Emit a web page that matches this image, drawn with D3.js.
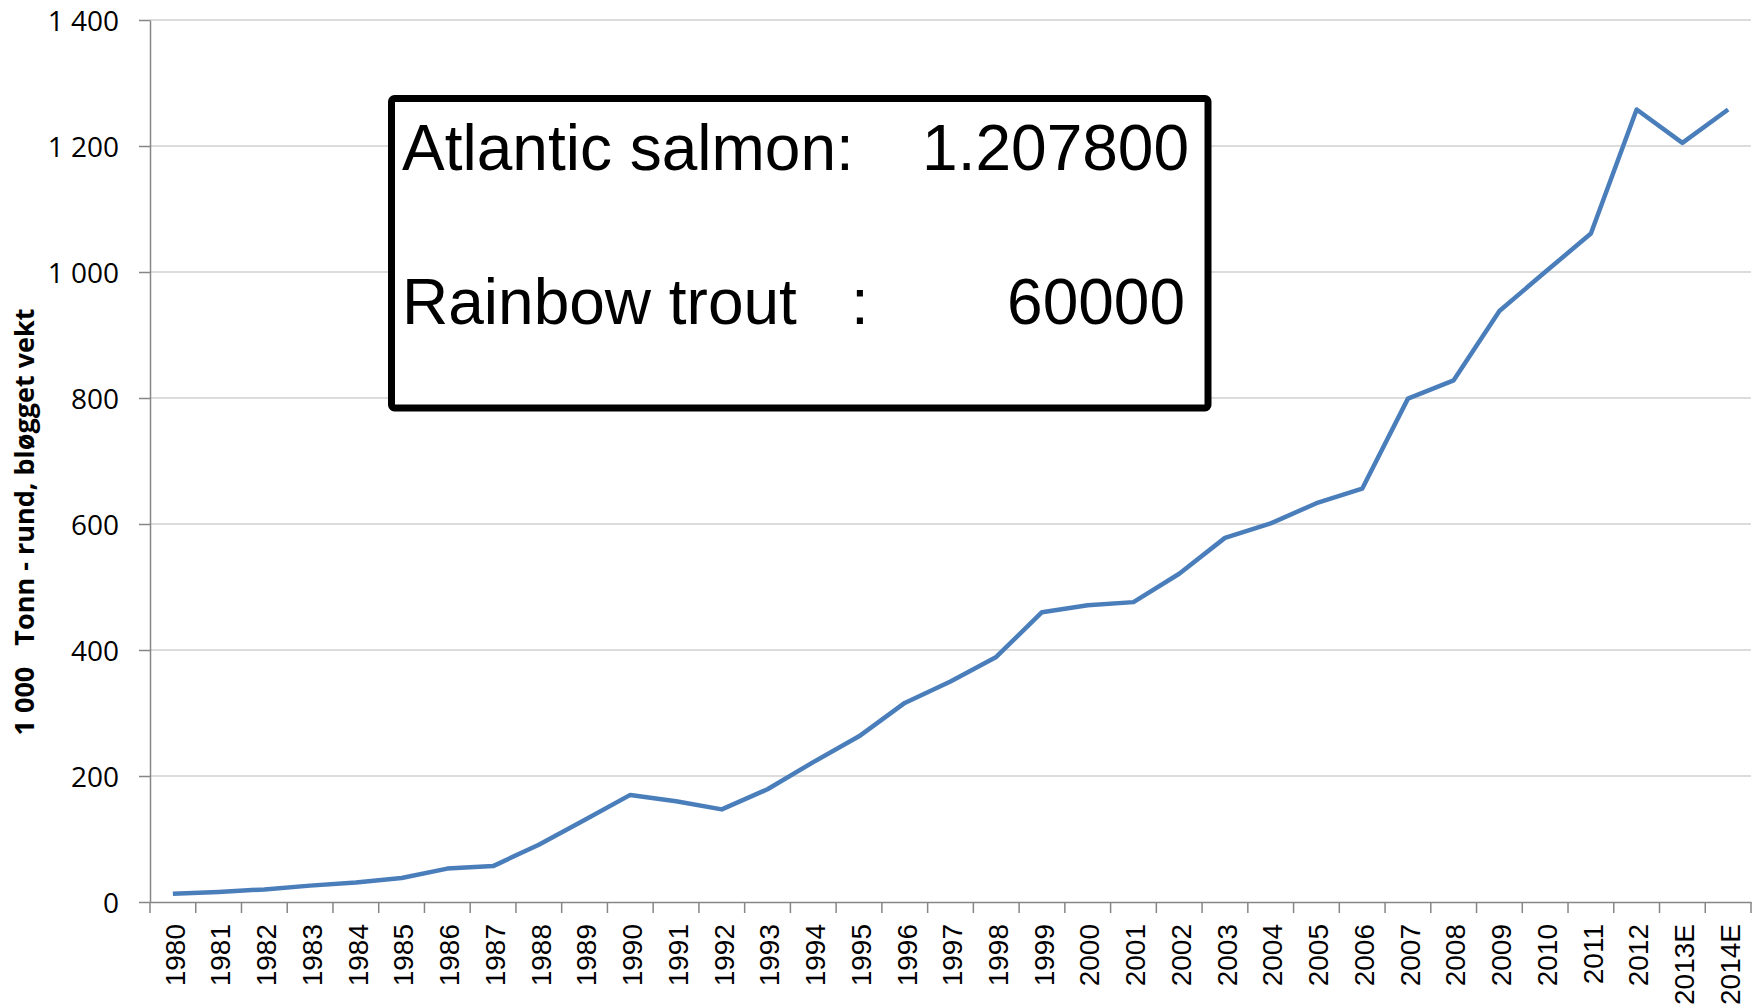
<!DOCTYPE html>
<html>
<head>
<meta charset="utf-8">
<script src="https://cdn.jsdelivr.net/npm/d3@7"></script>
<style>
  body { margin: 0; background: #fff; }
  svg { display: block; }
</style>
</head>
<body>
<div id="chart"></div>
<script>
// chart constants
const WIDTH = 1760;
const HEIGHT = 1007;
const plot = { left: 150, right: 1751, top: 20, bottom: 902 };

// data (1000 tonn)
const years = ["1980","1981","1982","1983","1984","1985","1986","1987","1988","1989",
  "1990","1991","1992","1993","1994","1995","1996","1997","1998","1999",
  "2000","2001","2002","2003","2004","2005","2006","2007","2008","2009",
  "2010","2011","2012","2013E","2014E"];
const production = [13, 16, 20, 26, 31, 38, 53, 57, 91, 130,
  170, 160, 147, 179, 222, 263, 316, 350, 389, 460,
  471, 476, 521, 578, 601, 633, 656, 799, 828, 938,
  1000, 1061, 1258, 1205, 1258];
const yTicks = [0, 200, 400, 600, 800, 1000, 1200, 1400];

// text box content
const boxRows = [
  { label: "Atlantic salmon:", colon: "", value: "1.207800" },
  { label: "Rainbow trout", colon: ":", value: "60000" }
];
const yTitle = "1 000   Tonn - rund, bløgget vekt";

const AXIS_COLOR = "#868686";
const GRID_COLOR = "#d0d0d0";
const LINE_COLOR = "#4a7ebb";

// norwegian style thousands: "1 400"
const nbFormat = d3.formatLocale({ decimal: ",", thousands: " ", grouping: [3], currency: ["", ""] }).format(",");

const svg = d3.select("#chart")
  .append("svg")
  .attr("width", WIDTH)
  .attr("height", HEIGHT);

const xScale = d3.scaleBand()
  .domain(years)
  .range([plot.left, plot.right])
  .padding(0);
const yScale = d3.scaleLinear()
  .domain([0, 1400])
  .range([plot.bottom, plot.top]);

// horizontal gridlines
svg.append("g")
  .selectAll("line")
  .data(yTicks.filter(d => d > 0))
  .enter().append("line")
  .attr("x1", plot.left)
  .attr("x2", plot.right)
  .attr("y1", d => yScale(d))
  .attr("y2", d => yScale(d))
  .attr("stroke", GRID_COLOR)
  .attr("stroke-width", 1.5);

// y axis
const yAxis = d3.axisLeft(yScale)
  .tickValues(yTicks)
  .tickSize(11)
  .tickSizeOuter(0)
  .tickFormat(nbFormat);
const yG = svg.append("g")
  .attr("transform", `translate(${plot.left}, 0)`)
  .call(yAxis);
yG.select(".domain").attr("stroke", AXIS_COLOR).attr("stroke-width", 1.5);
yG.selectAll(".tick line").attr("stroke", AXIS_COLOR).attr("stroke-width", 1.5);
yG.selectAll(".tick text")
  .attr("x", -31)
  .attr("dy", "0.36em")
  .style("font-family", "'Open Sans', sans-serif")
  .style("font-size", "28px")
  .attr("fill", "#000");

// x axis, labels at band centres
const xAxis = d3.axisBottom(xScale).tickSize(0).tickSizeOuter(0);
const xG = svg.append("g")
  .attr("transform", `translate(0, ${plot.bottom})`)
  .call(xAxis);
xG.select(".domain").attr("stroke", AXIS_COLOR).attr("stroke-width", 1.5);
xG.selectAll(".tick text")
  .attr("transform", "rotate(-90)")
  .attr("text-anchor", "end")
  .attr("x", -22)
  .attr("y", 0)
  .attr("dy", "0.42em")
  .style("font-family", "'Liberation Sans', Arial, sans-serif")
  .style("font-size", "28px")
  .attr("fill", "#000");

// x ticks between categories
const boundaries = years.map(d => xScale(d)).concat([plot.right]);
svg.append("g")
  .selectAll("line")
  .data(boundaries)
  .enter().append("line")
  .attr("x1", d => d)
  .attr("x2", d => d)
  .attr("y1", plot.bottom)
  .attr("y2", plot.bottom + 11)
  .attr("stroke", AXIS_COLOR)
  .attr("stroke-width", 1.5);

// y axis title
svg.append("text")
  .attr("transform", `translate(34, 522) rotate(-90)`)
  .attr("text-anchor", "middle")
  .style("font-family", "'Open Sans', sans-serif")
  .style("font-weight", "bold")
  .style("font-size", "27px")
  .style("white-space", "pre")
  .text(yTitle);

// the production line
const line = d3.line()
  .x((d, i) => xScale(years[i]) + xScale.bandwidth() / 2)
  .y(d => yScale(d));
svg.append("path")
  .datum(production)
  .attr("d", line)
  .attr("fill", "none")
  .attr("stroke", LINE_COLOR)
  .attr("stroke-width", 4.5)
  .attr("stroke-linejoin", "round");

// text box
const box = svg.append("g");
box.append("rect")
  .attr("x", 391.5)
  .attr("y", 98.5)
  .attr("width", 816.5)
  .attr("height", 309.5)
  .attr("rx", 3)
  .attr("fill", "#fff")
  .attr("stroke", "#000")
  .attr("stroke-width", 7);

const rows = box.selectAll("g.row")
  .data(boxRows)
  .enter().append("g")
  .attr("class", "row")
  .attr("transform", (d, i) => `translate(0, ${i == 0 ? 170 : 324})`)
  .style("font-family", "'Liberation Sans', Arial, sans-serif")
  .style("font-size", "64px");
rows.append("text").attr("x", 402).text(d => d.label);
rows.append("text").attr("x", 851).text(d => d.colon);
rows.append("text")
  .attr("x", (d, i) => i == 0 ? 1189 : 1185)
  .attr("text-anchor", "end")
  .text(d => d.value);
</script>
</body>
</html>
